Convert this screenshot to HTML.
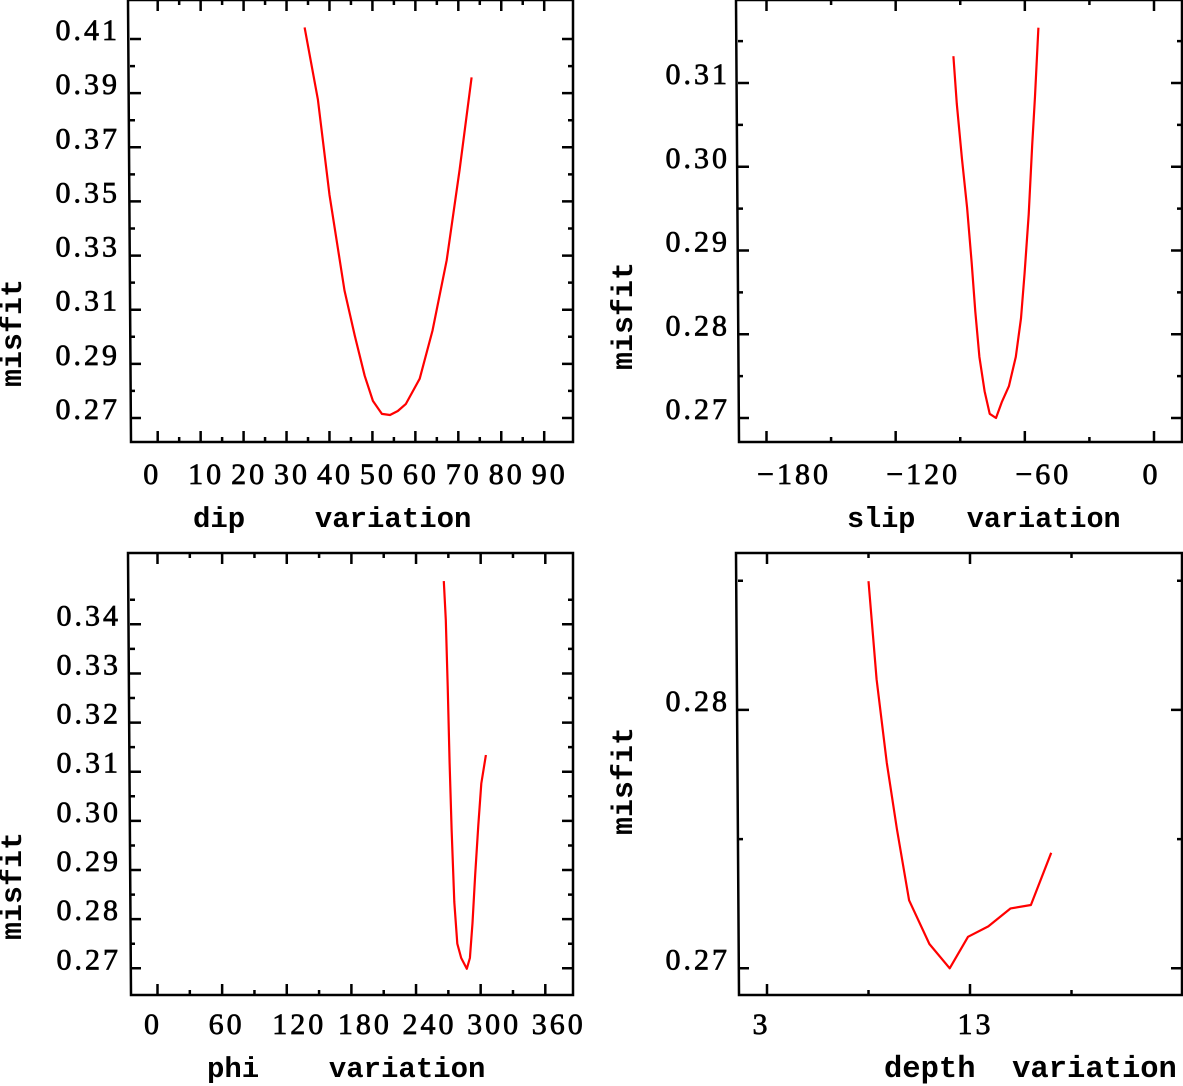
<!DOCTYPE html>
<html><head><meta charset="utf-8"><title>misfit variation plots</title>
<style>
html,body{margin:0;padding:0;background:#fff;}
svg{display:block;}
.num{font-family:"Liberation Serif",serif;font-size:30px;letter-spacing:3px;fill:#000;stroke:#000;stroke-width:0.7px;}
.ttl{font-family:"Liberation Mono",monospace;font-weight:bold;font-size:30px;fill:#000;white-space:pre;}
</style></head>
<body>
<svg id="fig" width="1183" height="1086" viewBox="0 0 1183 1086" xmlns="http://www.w3.org/2000/svg"></svg>
<script>
// ---- data ----
const dipX = [34.2, 37.3, 40.0, 43.5, 45.9, 48.2, 50.1, 52.2, 54.1, 55.9, 57.8, 61.0, 64.0, 67.3, 70.3, 73.1];
const dipMisfit = [0.4143, 0.3876, 0.3524, 0.3171, 0.3004, 0.2856, 0.2763, 0.2715, 0.2711, 0.2726, 0.2752, 0.2845, 0.3023, 0.3283, 0.3617, 0.3958];
const slipX = [-93.2, -91.6, -89.2, -86.8, -84.7, -83.0, -81.1, -78.7, -76.3, -73.4, -70.7, -67.4, -64.2, -61.8, -60.1, -58.2, -56.6, -55.3, -53.7];
const slipMisfit = [0.3132, 0.3075, 0.3009, 0.2951, 0.2885, 0.2827, 0.2773, 0.2732, 0.2705, 0.2700, 0.2719, 0.2738, 0.2773, 0.2819, 0.2873, 0.2943, 0.3026, 0.3084, 0.3166];
const phiX = [265.8, 267.6, 269.4, 271.2, 273.0, 275.5, 278.3, 281.9, 287.1, 290.0, 292.4, 294.9, 297.8, 300.6, 304.9];
const phiMisfit = [0.3488, 0.3409, 0.3274, 0.3118, 0.2983, 0.2835, 0.2750, 0.2721, 0.2699, 0.2721, 0.2792, 0.2891, 0.2991, 0.3076, 0.3134];
const depthX = [8.0, 8.4, 8.9, 9.4, 10.0, 11.0, 12.0, 12.9, 13.9, 15.0, 16.0, 17.0];
const depthMisfit = [0.28498, 0.28118, 0.27795, 0.27539, 0.27263, 0.27094, 0.27000, 0.27122, 0.27162, 0.27232, 0.27245, 0.27447];

const dipXTicks = [0,10,20,30,40,50,60,70,80,90];
const dipYTicks = [0.27,0.29,0.31,0.33,0.35,0.37,0.39,0.41];
const dipYLabels = ["0.27","0.29","0.31","0.33","0.35","0.37","0.39","0.41"];
const slipXTicks = [-180,-120,-60,0];
const slipXLabels = ["\u2212180","\u2212120","\u221260","0"];
const slipYTicks = [0.27,0.28,0.29,0.30,0.31];
const slipYLabels = ["0.27","0.28","0.29","0.30","0.31"];
const phiXTicks = [0,60,120,180,240,300,360];
const phiYTicks = [0.27,0.28,0.29,0.30,0.31,0.32,0.33,0.34];
const phiYLabels = ["0.27","0.28","0.29","0.30","0.31","0.32","0.33","0.34"];
const depthXTicks = [3,13];
const depthYTicks = [0.27,0.28];
const depthYLabels = ["0.27","0.28"];

const NS = "http://www.w3.org/2000/svg";
const svg = document.getElementById('fig');
function mk(tag, attrs, parent){
  const e = document.createElementNS(NS, tag);
  for (const k in attrs) e.setAttribute(k, attrs[k]);
  (parent||svg).appendChild(e);
  return e;
}

function panel(cfg){
  const g = mk('g', {});
  
  
  const X = v => cfg.xp0 + (v - cfg.xv0) * (cfg.xp1 - cfg.xp0) / (cfg.xv1 - cfg.xv0);
  const Y = v => cfg.yp0 + (v - cfg.yv0) * (cfg.yp1 - cfg.yp0) / (cfg.yv1 - cfg.yv0);
  const b = cfg.box;
  const fr = mk('path', {d:`M${b.l-2},${b.t} L${b.l+1},${b.b} L${b.r},${b.b} L${b.r},${b.t} Z`, fill:'none', stroke:'#000', 'stroke-width':2.5}, g);
  
  
  for (let v = cfg.xMinorStart; v <= cfg.xMinorEnd + 1e-9; v += cfg.xMinorStep){
    const major = cfg.xMajor.some(m => Math.abs(m - v) < 1e-6) || cfg.xAllMajor;
    const len = major ? 11 : 5;
    const x = X(v);
    const t = mk('path', {d:`M${x},${b.b} v${-len} M${x},${b.t} v${len}`, stroke:'#000', 'stroke-width':2.5}, g);
    
    
  }
  for (let v = cfg.yMinorStart; v <= cfg.yMinorEnd + 1e-9; v += cfg.yMinorStep){
    const major = cfg.yMajor.some(m => Math.abs(m - v) < 1e-6);
    const len = major ? 11 : 5;
    const y = Y(v);
    const t = mk('path', {d:`M${b.l},${y} h${len} M${b.r},${y} h${-len}`, stroke:'#000', 'stroke-width':2.5}, g);
    
    
  }
  cfg.xLabelVals.forEach((v, i) => {
    const t = mk('text', {x: X(v) + cfg.xLabelDx[i] + 1.5, y: cfg.xLabelY, 'text-anchor':'middle', class:'num'}, g);
    t.textContent = cfg.xLabelText ? cfg.xLabelText[i] : String(v);
    
    
  });
  cfg.yLabelVals.forEach((v, i) => {
    const t = mk('text', {x: cfg.yLabelRight + 3, y: Y(v) + 1, 'text-anchor':'end', class:'num'}, g);
    t.textContent = cfg.yLabelText[i];
    
    
  });
  const xt = mk('text', {x: cfg.xTitleX, y: cfg.xTitleY, class:'ttl'}, g);
  xt.style.fontSize = cfg.xTitleSize + 'px';
  xt.textContent = cfg.xTitle;
  
  
  const yt = mk('text', {x: 0, y: 0, class:'ttl', 'text-anchor':'middle', transform:`translate(${cfg.yTitleX},${cfg.yTitleY}) rotate(-90)`}, g);
  yt.textContent = 'misfit';
  
  
  const pts = cfg.xs.map((v, i) => X(v).toFixed(1) + ',' + Y(cfg.ys[i]).toFixed(1)).join(' ');
  const ln = mk('polyline', {points: pts, fill:'none', stroke:'#ff0000', 'stroke-width':2.2, 'stroke-linejoin':'round'}, g);
  
  
}

panel({name:'dip', box:{l:130,r:573,t:0,b:442},
  xv0:0, xv1:90, xp0:157.7, xp1:544.2, yv0:0.27, yv1:0.41, yp0:418, yp1:39,
  xMinorStart:0, xMinorEnd:90, xMinorStep:5, xMajor:dipXTicks,
  yMinorStart:0.27, yMinorEnd:0.4105, yMinorStep:0.01, yMajor:dipYTicks,
  xLabelVals:dipXTicks, xLabelDx:[-7,4,4,4,4,4,4,4,4,4], xLabelY:484,
  yLabelVals:dipYTicks, yLabelText:dipYLabels, yLabelRight:117,
  xTitle:'dip    variation', xTitleX:193, xTitleY:527, xTitleSize:29, yTitleX:21, yTitleY:333,
  xs:dipX, ys:dipMisfit});

panel({name:'slip', box:{l:738,r:1182,t:0,b:442},
  xv0:-180, xv1:0, xp0:766.5, xp1:1154, yv0:0.27, yv1:0.31, yp0:418, yp1:83,
  xMinorStart:-180, xMinorEnd:0, xMinorStep:30, xMajor:slipXTicks,
  yMinorStart:0.27, yMinorEnd:0.3155, yMinorStep:0.005, yMajor:slipYTicks,
  xLabelVals:slipXTicks, xLabelText:slipXLabels, xLabelDx:[26,26,17,-4], xLabelY:484,
  yLabelVals:slipYTicks, yLabelText:slipYLabels, yLabelRight:727,
  xTitle:'slip   variation', xTitleX:847, xTitleY:527, xTitleSize:28.5, yTitleX:632, yTitleY:316,
  xs:slipX, ys:slipMisfit});

panel({name:'phi', box:{l:130,r:573,t:553,b:995},
  xv0:0, xv1:360, xp0:157.5, xp1:545.3, yv0:0.27, yv1:0.34, yp0:968.3, yp1:624.3,
  xMinorStart:0, xMinorEnd:360, xMinorStep:30, xMajor:phiXTicks,
  yMinorStart:0.27, yMinorEnd:0.3455, yMinorStep:0.005, yMajor:phiYTicks,
  xLabelVals:phiXTicks, xLabelDx:[-6,3,11,12,12,12,12], xLabelY:1034,
  yLabelVals:phiYTicks, yLabelText:phiYLabels, yLabelRight:118,
  xTitle:'phi    variation', xTitleX:207, xTitleY:1077, xTitleSize:29, yTitleX:21, yTitleY:886,
  xs:phiX, ys:phiMisfit});

panel({name:'depth', box:{l:738,r:1182,t:553,b:995},
  xv0:3, xv1:13, xp0:767, xp1:970, yv0:0.27, yv1:0.28, yp0:968.3, yp1:709.9,
  xMinorStart:3, xMinorEnd:18, xMinorStep:5, xMajor:depthXTicks,
  yMinorStart:0.27, yMinorEnd:0.2855, yMinorStep:0.005, yMajor:depthYTicks,
  xLabelVals:depthXTicks, xLabelDx:[-7,4], xLabelY:1034,
  yLabelVals:depthYTicks, yLabelText:depthYLabels, yLabelRight:727,
  xTitle:'depth  variation', xTitleX:884, xTitleY:1077, xTitleSize:30.5, yTitleX:632, yTitleY:781,
  xs:depthX, ys:depthMisfit});
</script>
</body></html>
